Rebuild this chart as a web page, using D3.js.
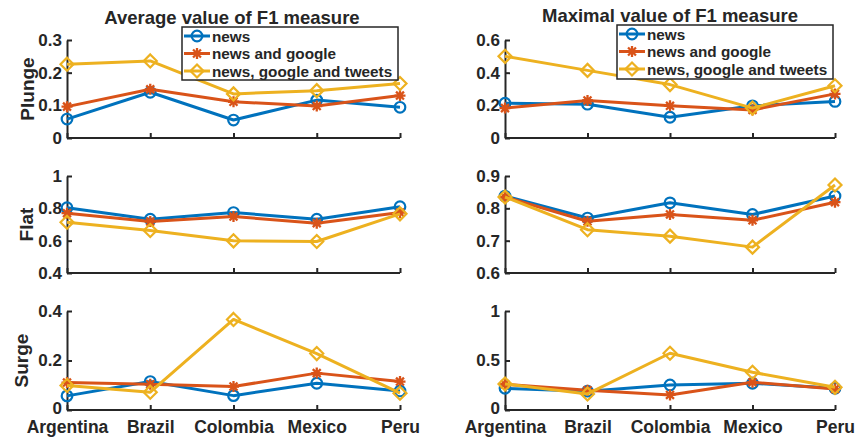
<!DOCTYPE html>
<html>
<head>
<meta charset="utf-8">
<script src="https://cdn.jsdelivr.net/npm/d3@7"></script>
<style>
  body { margin: 0; background: #fff; }
  svg text { font-family: "Liberation Sans", Arial, Helvetica, sans-serif; font-weight: bold; fill: #262626; }
</style>
</head>
<body>
<div id="chart"></div>
<script>
// categories and series
const countries = ['Argentina', 'Brazil', 'Colombia', 'Mexico', 'Peru'];
const seriesNames = ['news', 'news and google', 'news, google and tweets'];
const rowNames = ['Plunge', 'Flat', 'Surge'];
const panelTitles = ['Average value of F1 measure', 'Maximal value of F1 measure'];

// values per panel: [news, news and google, news google and tweets]
const avgPlunge = [
    [0.058, 0.140, 0.055, 0.116, 0.094],
    [0.096, 0.149, 0.111, 0.098, 0.130],
    [0.226, 0.236, 0.135, 0.145, 0.167]
];
const avgFlat = [
    [0.804, 0.733, 0.774, 0.733, 0.810],
    [0.770, 0.718, 0.749, 0.708, 0.774],
    [0.714, 0.663, 0.599, 0.595, 0.766]
];
const avgSurge = [
    [0.057, 0.115, 0.058, 0.108, 0.077],
    [0.111, 0.104, 0.095, 0.149, 0.115],
    [0.099, 0.072, 0.366, 0.228, 0.068]
];
const maxPlunge = [
    [0.213, 0.207, 0.127, 0.197, 0.224],
    [0.183, 0.230, 0.197, 0.172, 0.270],
    [0.500, 0.414, 0.327, 0.183, 0.320]
];
const maxFlat = [
    [0.838, 0.770, 0.817, 0.781, 0.838],
    [0.835, 0.760, 0.781, 0.763, 0.819],
    [0.835, 0.734, 0.714, 0.680, 0.872]
];
const maxSurge = [
    [0.219, 0.190, 0.253, 0.270, 0.219],
    [0.260, 0.200, 0.152, 0.280, 0.212],
    [0.263, 0.162, 0.573, 0.381, 0.229]
];

// y domains and ticks
const avgDomains = [[0, 0.3], [0.4, 1], [0, 0.4]];
const avgTicks = [[0, 0.1, 0.2, 0.3], [0.4, 0.6, 0.8, 1], [0, 0.2, 0.4]];
const maxDomains = [[0, 0.6], [0.6, 0.9], [0, 1]];
const maxTicks = [[0, 0.2, 0.4, 0.6], [0.6, 0.7, 0.8, 0.9], [0, 0.5, 1]];

const colors = ['#0072BD', '#D95319', '#EDB120'];
const markers = ['circle', 'asterisk', 'diamond'];
const axisColor = '#262626';

const width = 858, height = 437;
const columns = [{ x0: 67, x1: 400 }, { x0: 505, x1: 835 }];
const rows = [{ y0: 40, y1: 138 }, { y0: 176, y1: 273 }, { y0: 311, y1: 410 }];
const yLabelX = [27, 26, 21];

const panels = [
    { col: 0, row: 0, data: avgPlunge, domain: avgDomains[0], ticks: avgTicks[0] },
    { col: 0, row: 1, data: avgFlat, domain: avgDomains[1], ticks: avgTicks[1] },
    { col: 0, row: 2, data: avgSurge, domain: avgDomains[2], ticks: avgTicks[2] },
    { col: 1, row: 0, data: maxPlunge, domain: maxDomains[0], ticks: maxTicks[0] },
    { col: 1, row: 1, data: maxFlat, domain: maxDomains[1], ticks: maxTicks[1] },
    { col: 1, row: 2, data: maxSurge, domain: maxDomains[2], ticks: maxTicks[2] }
];

let svg = d3.select('#chart').append('svg')
    .attr('width', width)
    .attr('height', height);

function drawMarker(g, type, color) {
    if (type === 'circle') {
        g.append('circle').attr('r', 5.3)
            .attr('fill', 'none').attr('stroke', color).attr('stroke-width', 2.2);
    } else if (type === 'asterisk') {
        let s = 5.5;
        g.append('path')
            .attr('d', `M${-s},0H${s}M0,${-s}V${s}M${-s * 0.72},${-s * 0.72}L${s * 0.72},${s * 0.72}M${-s * 0.72},${s * 0.72}L${s * 0.72},${-s * 0.72}`)
            .attr('fill', 'none').attr('stroke', color).attr('stroke-width', 2.3);
    } else {
        let s = 6.5;
        g.append('path')
            .attr('d', `M0,${-s}L${s},0L0,${s}L${-s},0Z`)
            .attr('fill', 'none').attr('stroke', color).attr('stroke-width', 2.2);
    }
}

const fmt = d => String(+d.toFixed(2));

panels.forEach(p => {
    const c = columns[p.col], r = rows[p.row];
    let x = d3.scalePoint().domain(countries).range([c.x0, c.x1]);
    let y = d3.scaleLinear().domain(p.domain).range([r.y1, r.y0]);
    let g = svg.append('g');

    // y axis
    let yAxis = g.append('g')
        .attr('transform', `translate(${c.x0},0)`)
        .call(d3.axisLeft(y).tickValues(p.ticks).tickFormat(fmt).tickSizeInner(-5).tickSizeOuter(0).tickPadding(5));
    yAxis.select('.domain').attr('stroke', axisColor).attr('stroke-width', 2);
    yAxis.selectAll('.tick line').attr('stroke', axisColor).attr('stroke-width', 2);
    yAxis.selectAll('.tick text').attr('font-size', 17).attr('fill', axisColor).attr('x', -5);
    if (p.row === 2) {
        // lift the zero label a little so it clears the country names
        yAxis.selectAll('.tick text').filter(d => d === 0).attr('dy', '0.18em');
    }

    // x axis
    let xAxis = g.append('g')
        .attr('transform', `translate(0,${r.y1})`)
        .call(d3.axisBottom(x).tickSizeInner(-5).tickSizeOuter(0).tickPadding(6));
    xAxis.select('.domain').attr('stroke', axisColor).attr('stroke-width', 2)
        .attr('d', `M${c.x0},0H${c.x1}`);
    xAxis.selectAll('.tick line').attr('stroke', axisColor).attr('stroke-width', 2);
    if (p.row === 2) {
        xAxis.selectAll('.tick text').attr('font-size', 17.5).attr('fill', axisColor)
            .attr('y', 23).attr('dy', 0);
    } else {
        xAxis.selectAll('.tick text').remove();
    }

    // lines and markers
    p.data.forEach((vals, si) => {
        let line = d3.line()
            .x((d, i) => x(countries[i]))
            .y(d => y(d));
        g.append('path')
            .datum(vals)
            .attr('d', line)
            .attr('fill', 'none')
            .attr('stroke', colors[si])
            .attr('stroke-width', 3)
            .attr('stroke-linejoin', 'round');
        vals.forEach((v, i) => {
            let m = g.append('g').attr('transform', `translate(${x(countries[i])},${y(v)})`);
            drawMarker(m, markers[si], colors[si]);
        });
    });

    // row label
    if (p.col === 0) {
        svg.append('text')
            .attr('transform', `translate(${yLabelX[p.row]},${(r.y0 + r.y1) / 2}) rotate(-90)`)
            .attr('text-anchor', 'middle')
            .attr('dominant-baseline', 'central')
            .attr('font-size', 19)
            .text(rowNames[p.row]);
    }
});

// titles
svg.append('text').attr('x', 232).attr('y', 24).attr('text-anchor', 'middle')
    .attr('font-size', 18.5).text(panelTitles[0]);
svg.append('text').attr('x', 670).attr('y', 22).attr('text-anchor', 'middle')
    .attr('font-size', 18.5).text(panelTitles[1]);

// legends
const legendBoxes = [{ x: 182, y: 27, w: 216, h: 53 }, { x: 617, y: 25, w: 216, h: 54 }];
legendBoxes.forEach(b => {
    let lg = svg.append('g').attr('transform', `translate(${b.x},${b.y})`);
    lg.append('rect')
        .attr('width', b.w).attr('height', b.h)
        .attr('fill', '#fff').attr('stroke', axisColor).attr('stroke-width', 1.5);
    seriesNames.forEach((name, i) => {
        let cy = 9 + i * 17.5;
        lg.append('line')
            .attr('x1', 2).attr('x2', 28).attr('y1', cy).attr('y2', cy)
            .attr('stroke', colors[i]).attr('stroke-width', 3);
        drawMarker(lg.append('g').attr('transform', `translate(15,${cy})`), markers[i], colors[i]);
        lg.append('text')
            .attr('x', 30).attr('y', cy)
            .attr('dominant-baseline', 'central')
            .attr('font-size', 15.3)
            .text(name);
    });
});
</script>
</body>
</html>
